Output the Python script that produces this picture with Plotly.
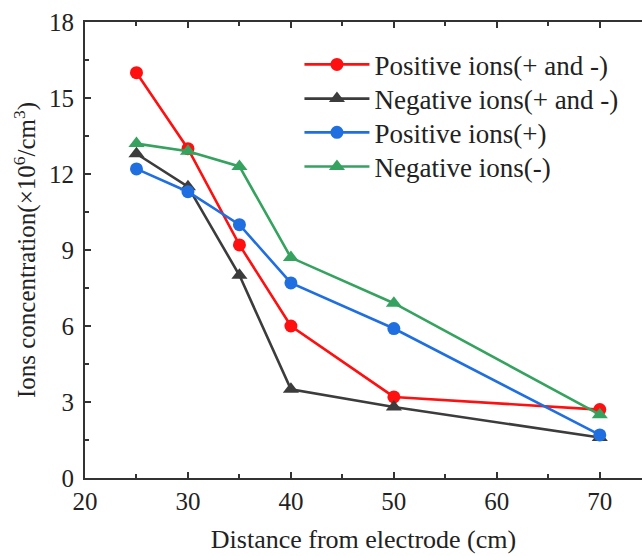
import plotly.graph_objects as go

distance = [25, 30, 35, 40, 50, 70]
pos_both = [16.0, 13.0, 9.2, 6.0, 3.2, 2.7]
neg_both = [12.8, 11.5, 8.0, 3.5, 2.8, 1.6]
pos_only = [12.2, 11.3, 10.0, 7.7, 5.9, 1.7]
neg_only = [13.2, 12.9, 12.3, 8.7, 6.9, 2.5]

names = ["Positive ions(+ and -)", "Negative ions(+ and -)", "Positive ions(+)", "Negative ions(-)"]
colors = ["#ff1010", "#3c3c3c", "#1f6fe0", "#35a35f"]
symbols = ["circle", "triangle-up", "circle", "triangle-up"]
series = [pos_both, neg_both, pos_only, neg_only]
legend_ids = ["legend", "legend2", "legend3", "legend4"]
legend_rows = [0.906, 0.831, 0.757, 0.682]

FONT = "Liberation Serif"

fig = go.Figure()
for n, c, s, y, lg in zip(names, colors, symbols, series, legend_ids):
    fig.add_trace(go.Scatter(
        x=distance, y=y, name=n, mode="lines+markers",
        line=dict(color=c, width=2.6),
        marker=dict(color=c, symbol=s, size=13 if s == "circle" else 14),
        legend=lg,
    ))

axis_common = dict(
    showgrid=False, zeroline=False, showline=True, linecolor="#333333", linewidth=2,
    ticks="inside", tickwidth=2, tickcolor="#333333", ticklen=6,
    tickfont=dict(family=FONT, size=25, color="#222222"),
)

fig.update_xaxes(
    range=[20, 74.1], tickvals=[20, 30, 40, 50, 60, 70], mirror="ticks",
    minor=dict(ticks="inside", tickvals=[25, 35, 45, 55, 65], ticklen=4, tickwidth=2, tickcolor="#333333"),
    title=dict(text="Distance from electrode (cm)", font=dict(family=FONT, size=26, color="#222222"), standoff=16),
    **axis_common,
)
fig.update_yaxes(
    range=[0, 18], tickvals=[0, 3, 6, 9, 12, 15, 18], ticklabelstandoff=4,
    minor=dict(ticks="inside", tickvals=[1.5, 4.5, 7.5, 10.5, 13.5, 16.5], ticklen=4, tickwidth=2, tickcolor="#333333"),
    title=dict(text="Ions concentration(×10<sup>6</sup>/cm<sup>3</sup>)", font=dict(family=FONT, size=25, color="#222222"), standoff=6),
    **axis_common,
)

legend_style = dict(
    x=0.385, xanchor="left", yanchor="middle",
    font=dict(family=FONT, size=27, color="#222222"),
    itemwidth=65, bgcolor="rgba(0,0,0,0)",
)
layout_legends = {}
for lg, yrow in zip(legend_ids, legend_rows):
    layout_legends[lg] = dict(y=yrow, **legend_style)

fig.update_layout(
    width=642, height=556,
    margin=dict(l=85, r=0, t=22, b=78),
    plot_bgcolor="white", paper_bgcolor="white",
    font=dict(family=FONT),
    showlegend=True,
    **layout_legends,
)

fig.write_html("out.html", config={"displayModeBar": False},
               post_script="document.body.style.margin='0';")
